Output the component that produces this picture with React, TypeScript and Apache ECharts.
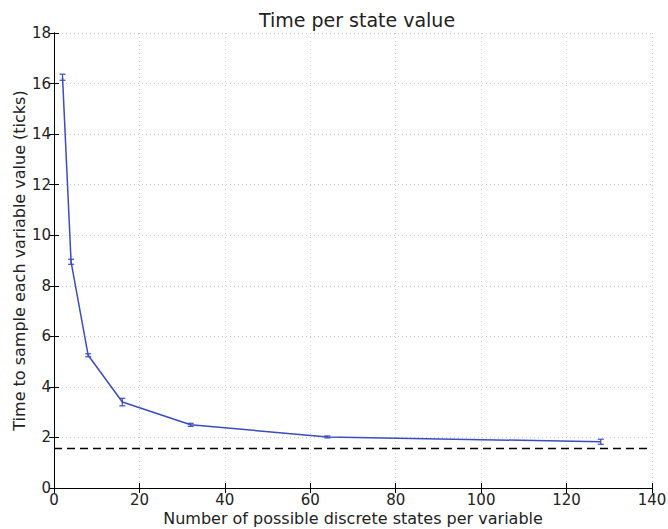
import React, { useEffect, useRef } from "react";
import * as echarts from "echarts";

const statesPerVariable = [2, 4, 8, 16, 32, 64, 128];
const timePerValue = [16.25, 8.95, 5.25, 3.4, 2.5, 2.02, 1.83];
const errorHalfWidth = [0.12, 0.1, 0.06, 0.15, 0.06, 0.04, 0.1];
const baselineValue = 1.58;
const xRange = [0, 140];
const yRange = [0, 18];

const FONT = "DejaVu Sans";
const LINE_COLOR = "#3a4cc0";

export default function App() {
  const ref = useRef<HTMLDivElement>(null);
  useEffect(() => {
    if (!ref.current) return;
    const chart = echarts.init(ref.current, null, { renderer: "svg" });
    const lineData = statesPerVariable.map((x, i) => [x, timePerValue[i]]);
    const errData = statesPerVariable.map((x, i) => [
      x,
      timePerValue[i] - errorHalfWidth[i],
      timePerValue[i] + errorHalfWidth[i],
    ]);
    const hiddenAxis = {
      axisLine: { show: true, lineStyle: { color: "#000", width: 1 } },
      axisTick: { show: true, inside: true, length: 5, lineStyle: { color: "#000" } },
      axisLabel: { show: false },
      splitLine: { show: false },
    };
    chart.setOption({
      animation: false,
      backgroundColor: "#fff",
      title: {
        text: "Time per state value",
        left: 352,
        top: 5,
        textAlign: "center",
        textStyle: { fontFamily: FONT, fontSize: 19, fontWeight: "normal", color: "#222" },
      },
      grid: { left: 54, right: 16, top: 33, bottom: 41, outerBoundsMode: "none", containLabel: false },
      xAxis: [
        {
          type: "value",
          min: xRange[0],
          max: xRange[1],
          interval: 20,
          name: "Number of possible discrete states per variable",
          nameLocation: "middle",
          nameGap: 22,
          nameMoveOverlap: false,
          nameTextStyle: { fontFamily: FONT, fontSize: 16, color: "#222", verticalAlign: "top" },
          axisLine: { show: true, lineStyle: { color: "#000", width: 1 } },
          axisTick: { show: true, inside: true, length: 5, lineStyle: { color: "#000" } },
          axisLabel: { fontFamily: FONT, fontSize: 15, color: "#222", margin: 4 },
          splitLine: { show: true, lineStyle: { color: "#ccc", type: [1, 3] } },
        },
        {
          type: "value",
          position: "top",
          min: xRange[0],
          max: xRange[1],
          interval: 20,
          ...hiddenAxis,
        },
      ],
      yAxis: [
        {
          type: "value",
          min: yRange[0],
          max: yRange[1],
          interval: 2,
          name: "Time to sample each variable value (ticks)",
          nameLocation: "middle",
          nameGap: 27,
          nameMoveOverlap: false,
          nameTextStyle: { fontFamily: FONT, fontSize: 16, color: "#222" },
          axisLine: { show: true, lineStyle: { color: "#000", width: 1 } },
          axisTick: { show: true, inside: true, length: 5, lineStyle: { color: "#000" } },
          axisLabel: { fontFamily: FONT, fontSize: 15, color: "#222", margin: 3 },
          splitLine: { show: true, lineStyle: { color: "#ccc", type: [1, 3] } },
        },
        {
          type: "value",
          position: "right",
          min: yRange[0],
          max: yRange[1],
          interval: 2,
          ...hiddenAxis,
        },
      ],
      series: [
        {
          type: "line",
          data: lineData,
          symbol: "none",
          lineStyle: { color: LINE_COLOR, width: 1.5 },
          z: 3,
          markLine: {
            silent: true,
            symbol: "none",
            label: { show: false },
            lineStyle: { color: "#000", type: [8, 5], width: 1.3 },
            data: [{ yAxis: baselineValue }],
          },
        },
        {
          type: "custom",
          data: errData,
          z: 4,
          renderItem: (params: any, api: any) => {
            const x = api.value(0);
            const lo = api.coord([x, api.value(1)]);
            const hi = api.coord([x, api.value(2)]);
            const cap = 3;
            const style = { stroke: LINE_COLOR, lineWidth: 1.2 };
            return {
              type: "group",
              children: [
                { type: "line", shape: { x1: lo[0], y1: lo[1], x2: hi[0], y2: hi[1] }, style },
                { type: "line", shape: { x1: lo[0] - cap, y1: lo[1], x2: lo[0] + cap, y2: lo[1] }, style },
                { type: "line", shape: { x1: hi[0] - cap, y1: hi[1], x2: hi[0] + cap, y2: hi[1] }, style },
              ],
            };
          },
        },
      ],
    });
    return () => chart.dispose();
  }, []);
  return <div ref={ref} style={{ width: 668, height: 529, position: "absolute", left: 0, top: 0 }} />;
}
